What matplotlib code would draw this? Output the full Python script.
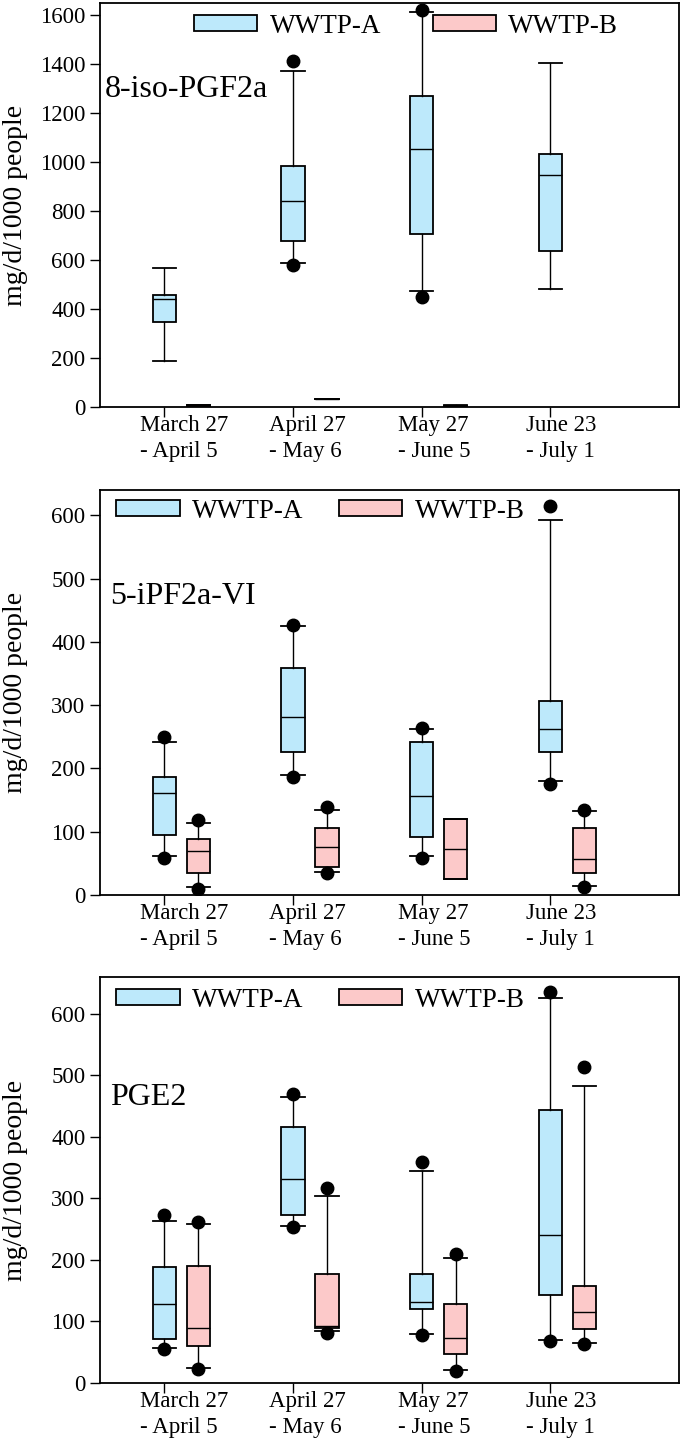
import matplotlib
matplotlib.use("Agg")
import matplotlib.pyplot as plt
from matplotlib.patches import Patch

plt.rcParams["font.family"] = ["Liberation Serif", "DejaVu Serif"]

periods = ["March 27\n- April 5", "April 27\n- May 6", "May 27\n- June 5", "June 23\n- July 1"]
sites = ["WWTP-A", "WWTP-B"]
compounds = ["8-iso-PGF2a", "5-iPF2a-VI", "PGE2"]

# five-number summaries per period: [whisker low, q1, median, q3, whisker high]
iso_a = [[186, 349, 442, 459, 567], [590, 677, 843, 983, 1373], [474, 705, 1052, 1272, 1614], [484, 639, 949, 1033, 1407]]
iso_a_dots = [[], [580, 1414], [451, 1623], []]
iso_b = [[0, 2, 5, 8, 10], [34, 34, 34, 34, 34], [1, 2, 4, 6, 8], None]
iso_b_dots = [[], [], [], []]

ipf_a = [[62, 95, 161, 186, 242], [189, 226, 281, 358, 425], [61, 92, 156, 242, 262], [180, 226, 263, 306, 592]]
ipf_a_dots = [[59, 249], [187, 427], [58, 264], [176, 615]]
ipf_b = [[12, 34, 70, 89, 114], [37, 44, 76, 105, 135], [25, 25, 72, 120, 120], [14, 34, 57, 106, 132]]
ipf_b_dots = [[10, 118], [35, 139], [], [13, 134]]

pge_a = [[57, 72, 129, 189, 264], [256, 273, 332, 416, 465], [80, 120, 131, 177, 345], [70, 143, 240, 444, 626]]
pge_a_dots = [[55, 273], [254, 470], [78, 360], [68, 636]]
pge_b = [[24, 60, 90, 190, 259], [84, 90, 93, 178, 304], [21, 47, 73, 129, 204], [65, 88, 115, 157, 483]]
pge_b_dots = [[23, 262], [82, 317], [20, 210], [63, 514]]

color_a = "#bde9fb"
color_b = "#fcc9c9"


def to_stats(rows, dots):
    stats, pos = [], []
    for i, (r, d) in enumerate(zip(rows, dots)):
        if r is None:
            continue
        stats.append({"whislo": r[0], "q1": r[1], "med": r[2], "q3": r[3], "whishi": r[4], "fliers": d})
        pos.append(i + 1)
    return stats, pos


def draw_panel(ax, a, a_dots, b, b_dots, ymax, ticks, name, name_xy, leg_xy, colspace):
    for rows, dots, off, col in [(a, a_dots, 0.0, color_a), (b, b_dots, 0.265, color_b)]:
        stats, pos = to_stats(rows, dots)
        ax.bxp(stats, positions=[p + off for p in pos], widths=0.18, capwidths=0.18,
               patch_artist=True, manage_ticks=False,
               boxprops=dict(facecolor=col, edgecolor="black", linewidth=1.3),
               medianprops=dict(color="black", linewidth=1.0),
               whiskerprops=dict(color="black", linewidth=1.0),
               capprops=dict(color="black", linewidth=1.3),
               flierprops=dict(marker="o", markerfacecolor="black", markeredgecolor="black",
                               markersize=9, linestyle="none"))
    ax.set_xlim(0.5, 5.0)
    ax.set_ylim(0, ymax)
    ax.set_yticks(ticks)
    ax.set_xticks(range(1, len(periods) + 1))
    ax.set_xticklabels([])
    ax.tick_params(axis="both", direction="out", length=7, width=1.0, labelsize=16.5,
                   top=False, right=False)
    for s in ax.spines.values():
        s.set_linewidth(1.3)
    for i, lab in enumerate(periods):
        ax.annotate(lab, xy=(i + 1, 0), xycoords=("data", "axes fraction"),
                    xytext=(-24, -8), textcoords="offset pixels",
                    ha="left", va="top", fontsize=16.5, linespacing=1.3)
    ax.set_ylabel("mg/d/1000 people", fontsize=20)
    ax.yaxis.set_label_coords(-0.124, 0.5)
    ax.text(name_xy[0], name_xy[1], name, transform=ax.transAxes, fontsize=23,
            ha="left", va="center")
    handles = [Patch(facecolor=color_a, edgecolor="black", linewidth=1.3),
               Patch(facecolor=color_b, edgecolor="black", linewidth=1.3)]
    ax.legend(handles, sites, loc="center left", bbox_to_anchor=leg_xy, ncol=2,
              frameon=False, fontsize=19.5, handlelength=2.35, handleheight=0.5,
              handletextpad=0.45, columnspacing=colspace, borderpad=0, borderaxespad=0)


fig = plt.figure(figsize=(6.88, 14.5), dpi=100)
ax1 = fig.add_axes([0.1453, 0.7193, 0.8416, 0.2786])
ax2 = fig.add_axes([0.1453, 0.3828, 0.8416, 0.2793])
ax3 = fig.add_axes([0.1453, 0.0462, 0.8416, 0.2800])

draw_panel(ax1, iso_a, iso_a_dots, iso_b, iso_b_dots, 1650, range(0, 1601, 200),
           compounds[0], (0.009, 0.785), (0.162, 0.943), 1.9)
draw_panel(ax2, ipf_a, ipf_a_dots, ipf_b, ipf_b_dots, 640, range(0, 601, 100),
           compounds[1], (0.017, 0.736), (0.028, 0.948), 1.3)
draw_panel(ax3, pge_a, pge_a_dots, pge_b, pge_b_dots, 660, range(0, 601, 100),
           compounds[2], (0.017, 0.704), (0.028, 0.943), 1.3)

fig.savefig("out.png", dpi=100)
